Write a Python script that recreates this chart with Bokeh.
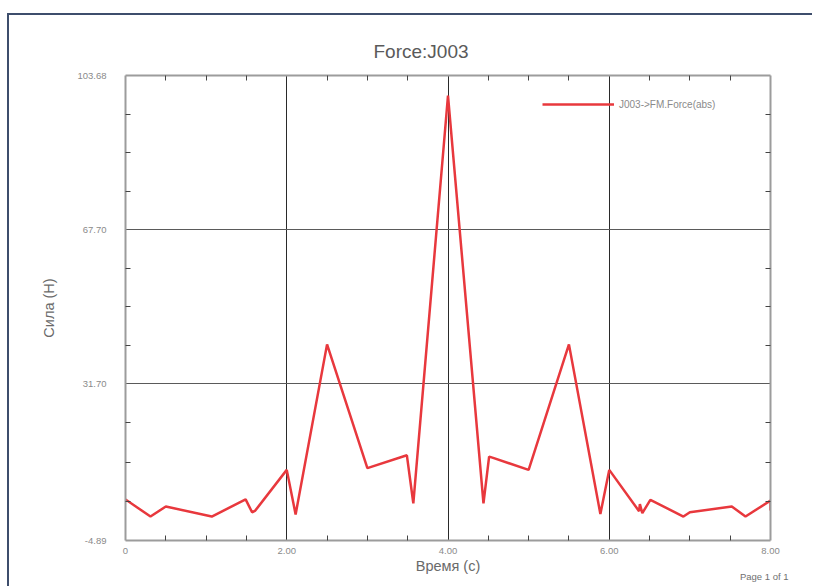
from bokeh.plotting import figure
from bokeh.models import (Range1d, LinearAxis, FixedTicker, Title, Legend, LegendItem)
from bokeh.embed import file_html
from bokeh.resources import INLINE

# ---- data ----
time_s = [0.0, 0.31, 0.50, 1.07, 1.49, 1.57, 1.61, 2.00, 2.11, 2.50, 3.00, 3.49, 3.57,
          4.00, 4.44, 4.51, 4.56, 5.00, 5.50, 5.89, 6.00, 6.37, 6.38, 6.41, 6.51,
          6.92, 7.00, 7.52, 7.69, 8.00, 8.00]
force_n = [4.7, 0.7, 3.05, 0.7, 4.7, 1.7, 2.1, 11.6, 1.2, 40.9, 12.0, 15.0, 3.8,
           99.0, 3.8, 14.7, 14.4, 11.6, 40.9, 1.3, 11.6, 1.95, 3.6, 1.5, 4.6,
           0.7, 1.7, 3.05, 0.7, 4.45, 2.1]

x_ticks = [0, 2, 4, 6, 8]
x_tick_labels = ["0", "2.00", "4.00", "6.00", "8.00"]
x_minor = [0.5, 1.0, 1.5, 2.5, 3.0, 3.5, 4.5, 5.0, 5.5, 6.5, 7.0, 7.5]
y_ticks = [-4.89, 31.70, 67.70, 103.68]
y_tick_labels = ["-4.89", "31.70", "67.70", "103.68"]

title_text = "Force:J003"
x_title = "Время (с)"
y_title = "Сила (Н)"
series_name = "J003->FM.Force(abs)"
page_text = "Page 1 of 1"

# minor ticks on y: 3 evenly between each pair of majors
y_minor = []
for a, b in zip(y_ticks[:-1], y_ticks[1:]):
    for k in range(1, 4):
        y_minor.append(a + (b - a) * k / 4)

FONT = "Liberation Sans"

p = figure(width=805, height=573, output_backend="svg", toolbar_location=None,
           x_range=Range1d(0, 8), y_range=Range1d(-4.89, 103.68),
           x_axis_location=None, y_axis_location=None, title=None,
           min_border_left=116, min_border_right=44, min_border_top=60, min_border_bottom=48)
p.outline_line_color = None
p.background_fill_color = "white"
p.border_fill_color = "white"
p.margin = (13, 0, 0, 7)
p.styles = {"border-top": "2px solid #3e4e6c", "border-left": "2px solid #3e4e6c"}

xt = FixedTicker(ticks=x_ticks, minor_ticks=x_minor)
yt = FixedTicker(ticks=y_ticks, minor_ticks=y_minor)
xt_top = FixedTicker(ticks=[], minor_ticks=x_minor)
yt_right = FixedTicker(ticks=[], minor_ticks=y_minor)

def style_axis(ax):
    ax.axis_line_color = "#9c9c9c"
    ax.axis_line_width = 2
    ax.major_tick_in = 0
    ax.major_tick_out = 0
    ax.minor_tick_in = 5
    ax.minor_tick_out = 0
    ax.minor_tick_line_color = "#444444"
    ax.minor_tick_line_width = 1
    ax.major_label_text_font = FONT
    ax.major_label_text_font_size = "9.5px"
    ax.major_label_text_color = "#8a8a8a"
    ax.axis_label_text_font = FONT
    ax.axis_label_text_font_size = "14.5px"
    ax.axis_label_text_font_style = "normal"
    ax.axis_label_text_color = "#6a6a6a"

bx = LinearAxis(ticker=xt, major_label_overrides=dict(zip(x_ticks, x_tick_labels)),
                axis_label=x_title)
style_axis(bx)
bx.major_label_standoff = 7
bx.axis_label_standoff = 1
ly = LinearAxis(ticker=yt, major_label_overrides=dict(zip(y_ticks, y_tick_labels)),
                axis_label=y_title)
style_axis(ly)
ly.major_label_standoff = 19
ly.axis_label_standoff = 17
tx = LinearAxis(ticker=xt_top)
style_axis(tx)
tx.major_label_standoff = 0
ry = LinearAxis(ticker=yt_right)
style_axis(ry)
ry.major_label_standoff = 0
p.add_layout(bx, "below")
p.add_layout(ly, "left")
p.add_layout(tx, "above")
p.add_layout(ry, "right")

p.xgrid.ticker = xt
p.ygrid.ticker = yt
p.xgrid.grid_line_color = "#2a2a2a"
p.xgrid.grid_line_width = 1
p.ygrid.grid_line_color = "#5a5a5a"
p.ygrid.grid_line_width = 1

r = p.line(time_s, force_n, line_color="#e8383d", line_width=2.5)

leg = Legend(items=[LegendItem(label=series_name, renderers=[r])],
             location=(417, 430), glyph_width=72, glyph_height=12,
             label_height=12, label_standoff=5, padding=0, margin=0,
             border_line_color=None, background_fill_alpha=0,
             label_text_font=FONT, label_text_font_size="10px",
             label_text_color="#8a8a8a")
p.add_layout(leg, "center")

t = Title(text=title_text, align="left", offset=248, standoff=28,
          text_font=FONT, text_font_size="19px", text_font_style="normal",
          text_color="#5a5a5a")
p.add_layout(t, "above")

pg = Title(text=page_text, align="right", offset=-18, standoff=-12,
           vertical_align="top",
           text_font=FONT, text_font_size="9.5px", text_font_style="normal",
           text_color="#707070")
p.add_layout(pg, "below")

open("out.html", "w").write(file_html(p, INLINE))
